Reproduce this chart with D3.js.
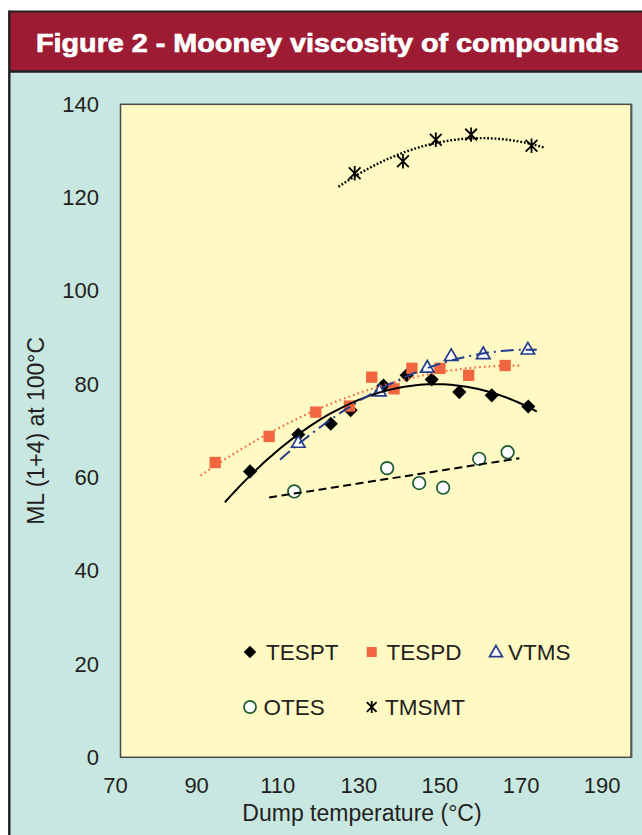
<!DOCTYPE html>
<html>
<head>
<meta charset="utf-8">
<script src="https://cdn.jsdelivr.net/npm/d3@7"></script>
<style>
  html, body { margin: 0; padding: 0; background: #ffffff; }
  svg { display: block; }
</style>
</head>
<body>
<svg id="chart" width="642" height="835"></svg>
<script>
// ---- Data -------------------------------------------------------------
const xTicks = [70, 90, 110, 130, 150, 170, 190];
const yTicks = [0, 20, 40, 60, 80, 100, 120, 140];

const seriesNames = ["TESPT", "TESPD", "VTMS", "OTES", "TMSMT"];

const tesptTemp = [103.3, 115.2, 123.2, 128.1, 136.2, 141.9, 148.1, 154.9, 162.9, 171.9];
const tesptML   = [61.3, 69.2, 71.5, 74.4, 79.7, 81.9, 81.0, 78.3, 77.6, 75.2];

const tespdTemp = [94.7, 108.0, 119.5, 127.8, 133.3, 138.8, 143.2, 150.1, 157.2, 166.2];
const tespdML   = [63.2, 68.8, 74.0, 75.3, 81.5, 79.0, 83.4, 83.4, 81.9, 84.0];

const vtmsTemp = [115.2, 135.2, 147.0, 152.9, 160.8, 171.8];
const vtmsML   = [67.3, 78.3, 83.4, 85.9, 86.3, 87.3];

const otesTemp = [114.2, 137.1, 145.0, 150.9, 159.8, 166.8];
const otesML   = [57.0, 62.0, 58.8, 57.8, 64.0, 65.4];

const tmsmtTemp = [129.1, 141.0, 149.1, 157.8, 172.7];
const tmsmtML   = [125.2, 127.8, 132.4, 133.5, 131.1];

// trendline order (polynomial degree) and the temperature span it covers
const trendDegree = [2, 2, 2, 1, 2];
const trendSpan = [[97.1, 174.0], [91.1, 169.7], [110.7, 174.0], [108.0, 169.7], [125.1, 175.8]];

// ---- Layout -------------------------------------------------------------
const svg = d3.select("#chart");
const W = 642, H = 835;
const plot = { left: 120.5, top: 104.3, right: 631, bottom: 757.3 };
const FONT = "'Liberation Sans', Arial, Helvetica, sans-serif";

const x = d3.scaleLinear().domain([70, 190]).range([115, 601.7]);
const y = d3.scaleLinear().domain([0, 140]).range([plot.bottom, plot.top]);

// frame, title band and panel background
svg.append("rect").attr("x", 0).attr("y", 0).attr("width", W).attr("height", H).attr("fill", "#ffffff");
svg.append("rect").attr("x", 10).attr("y", 72).attr("width", W - 10).attr("height", H - 72).attr("fill", "#c8e7e1");
svg.append("rect").attr("x", 10).attr("y", 12).attr("width", W - 10).attr("height", 59).attr("fill", "#9d1b33");
svg.append("line").attr("x1", 9.3).attr("x2", W).attr("y1", 11.5).attr("y2", 11.5)
  .attr("stroke", "#231f20").attr("stroke-width", 2.2);
svg.append("line").attr("x1", 9.3).attr("x2", W).attr("y1", 71.5).attr("y2", 71.5)
  .attr("stroke", "#231f20").attr("stroke-width", 2.6);
svg.append("line").attr("x1", 9.3).attr("x2", 9.3).attr("y1", 10.5).attr("y2", H)
  .attr("stroke", "#231f20").attr("stroke-width", 2.4);

svg.append("text")
  .attr("x", 36).attr("y", 51.5)
  .attr("textLength", 583).attr("lengthAdjust", "spacingAndGlyphs")
  .attr("font-family", FONT).attr("font-weight", "bold").attr("font-size", 26)
  .attr("fill", "#ffffff").attr("stroke", "#ffffff").attr("stroke-width", 0.7)
  .text("Figure 2 - Mooney viscosity of compounds");

// plot area
svg.append("rect")
  .attr("x", plot.left).attr("y", plot.top)
  .attr("width", plot.right - plot.left).attr("height", plot.bottom - plot.top)
  .attr("fill", "#fff9c4").attr("stroke", "#4a4a4a").attr("stroke-width", 1.5);
svg.append("line").attr("x1", plot.right + 0.8).attr("x2", plot.right + 0.8)
  .attr("y1", plot.top).attr("y2", plot.bottom + 0.8)
  .attr("stroke", "#555").attr("stroke-width", 1.2);

// ---- Axes ---------------------------------------------------------------
const xAxis = svg.append("g")
  .attr("transform", `translate(0,${plot.bottom})`)
  .call(d3.axisBottom(x).tickValues(xTicks).tickSize(0).tickPadding(20).tickFormat(d3.format("d")));
xAxis.select(".domain").remove();
xAxis.selectAll("text").attr("font-family", FONT).attr("font-size", 22).attr("fill", "#231f20");

const yAxis = svg.append("g")
  .attr("transform", `translate(${plot.left},0)`)
  .call(d3.axisLeft(y).tickValues(yTicks).tickSize(0).tickPadding(21.5).tickFormat(d3.format("d")));
yAxis.select(".domain").remove();
yAxis.selectAll("text").attr("font-family", FONT).attr("font-size", 22).attr("fill", "#231f20");

svg.append("text")
  .attr("x", 362).attr("y", 821)
  .attr("text-anchor", "middle")
  .attr("font-family", FONT).attr("font-size", 23).attr("fill", "#231f20")
  .text("Dump temperature (°C)");

svg.append("text")
  .attr("transform", `translate(44,${(plot.top + plot.bottom) / 2}) rotate(-90)`)
  .attr("text-anchor", "middle")
  .attr("font-family", FONT).attr("font-size", 23).attr("fill", "#231f20")
  .text("ML (1+4) at 100°C");

// ---- Marker shapes ---------------------------------------------------------
const asterisk = {
  draw(ctx, size) {
    const r = Math.sqrt(size) / 2;
    ctx.moveTo(-r * 0.85, -r * 0.85); ctx.lineTo(r * 0.85, r * 0.85);
    ctx.moveTo(r * 0.85, -r * 0.85); ctx.lineTo(-r * 0.85, r * 0.85);
    ctx.moveTo(0, -r * 1.05); ctx.lineTo(0, r * 1.05);
  }
};

const styles = [
  { type: d3.symbolSquare, size: 100, rotate: 45, fill: "#000000", stroke: "none", sw: 0,
    line: { color: "#000000", width: 2, dash: null } },
  { type: d3.symbolSquare, size: 128, rotate: 0, fill: "#f2663f", stroke: "none", sw: 0,
    line: { color: "#f2663f", width: 2.2, dash: "1.6 3.2" } },
  { type: d3.symbolTriangle, size: 78, rotate: 0, fill: "#ffffff", stroke: "#233d8c", sw: 1.7,
    line: { color: "#233d8c", width: 2, dash: "13 5 2 5" } },
  { type: d3.symbolCircle, size: 125, rotate: 0, fill: "#ffffff", stroke: "#1d5a33", sw: 1.7,
    line: { color: "#000000", width: 2, dash: "8 4.5" } },
  { type: asterisk, size: 190, rotate: 0, fill: "none", stroke: "#000000", sw: 1.8,
    line: { color: "#000000", width: 2.4, dash: "1.8 1.9" } }
];

const series = [
  { t: tesptTemp, v: tesptML },
  { t: tespdTemp, v: tespdML },
  { t: vtmsTemp, v: vtmsML },
  { t: otesTemp, v: otesML },
  { t: tmsmtTemp, v: tmsmtML }
];

// ---- Markers ---------------------------------------------------------------
series.forEach((s, i) => {
  const st = styles[i];
  const sym = d3.symbol().type(st.type).size(st.size);
  svg.append("g").selectAll("path")
    .data(s.t.map((t, k) => [t, s.v[k]]))
    .join("path")
    .attr("d", sym)
    .attr("transform", d => `translate(${x(d[0])},${y(d[1])}) rotate(${st.rotate})`)
    .attr("fill", st.fill).attr("stroke", st.stroke).attr("stroke-width", st.sw);
});

// ---- Least-squares polynomial trendlines ----------------------------------
function polyfit(xs, ys, deg) {
  const mx = d3.mean(xs);
  const n = deg + 1;
  const A = Array.from({ length: n }, () => new Array(n + 1).fill(0));
  xs.forEach((xv, k) => {
    const u = xv - mx;
    for (let r = 0; r < n; r++) {
      for (let c = 0; c < n; c++) A[r][c] += Math.pow(u, r + c);
      A[r][n] += ys[k] * Math.pow(u, r);
    }
  });
  for (let p = 0; p < n; p++) {
    let best = p;
    for (let r = p + 1; r < n; r++) if (Math.abs(A[r][p]) > Math.abs(A[best][p])) best = r;
    [A[p], A[best]] = [A[best], A[p]];
    for (let r = 0; r < n; r++) {
      if (r === p) continue;
      const f = A[r][p] / A[p][p];
      for (let c = p; c <= n; c++) A[r][c] -= f * A[p][c];
    }
  }
  const coef = A.map((row, r) => row[n] / row[r]);
  return xv => coef.reduce((acc, c, r) => acc + c * Math.pow(xv - mx, r), 0);
}

series.forEach((s, i) => {
  const f = polyfit(s.t, s.v, trendDegree[i]);
  const [a, b] = trendSpan[i];
  const pts = d3.range(0, 81).map(k => a + (b - a) * k / 80);
  const ln = styles[i].line;
  svg.append("path")
    .datum(pts)
    .attr("d", d3.line().x(t => x(t)).y(t => y(f(t))))
    .attr("fill", "none")
    .attr("stroke", ln.color)
    .attr("stroke-width", ln.width)
    .attr("stroke-dasharray", ln.dash)
    .attr("stroke-linecap", "butt");
});

// ---- Legend ----------------------------------------------------------------
const legendItems = [
  { sx: 250, tx: 266, y: 652 },
  { sx: 371.7, tx: 386.5, y: 652 },
  { sx: 496, tx: 508, y: 652 },
  { sx: 250, tx: 263.5, y: 707 },
  { sx: 371.7, tx: 385, y: 707 }
];
const legendSize = [78, 100, 72, 115, 130];
const legend = svg.append("g");
legendItems.forEach((it, i) => {
  const st = styles[i];
  legend.append("path")
    .attr("d", d3.symbol().type(st.type).size(legendSize[i])())
    .attr("transform", `translate(${it.sx},${it.y + (i === 2 ? 1 : 0)}) rotate(${st.rotate})`)
    .attr("fill", st.fill).attr("stroke", st.stroke).attr("stroke-width", st.sw);
  legend.append("text")
    .attr("x", it.tx).attr("y", it.y + 8)
    .attr("font-family", FONT).attr("font-size", 22.5).attr("fill", "#231f20")
    .text(seriesNames[i]);
});
</script>
</body>
</html>
